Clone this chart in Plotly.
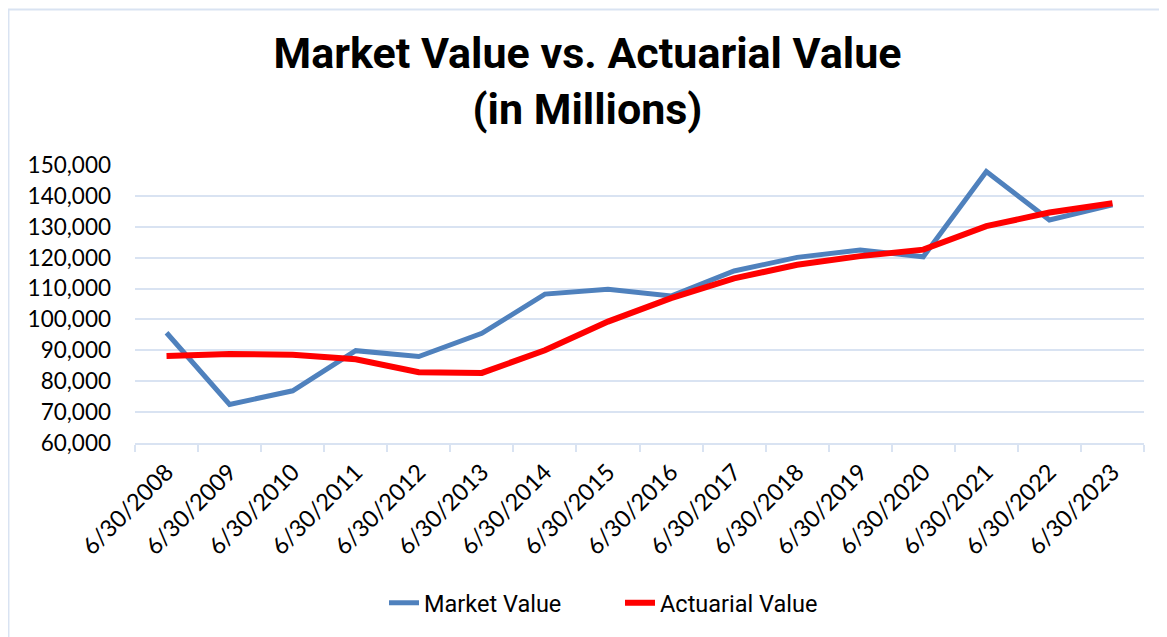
import plotly.graph_objects as go

dates = ['6/30/2008', '6/30/2009', '6/30/2010', '6/30/2011', '6/30/2012',
         '6/30/2013', '6/30/2014', '6/30/2015', '6/30/2016', '6/30/2017',
         '6/30/2018', '6/30/2019', '6/30/2020', '6/30/2021', '6/30/2022',
         '6/30/2023']
market_value = [95700, 72500, 76900, 89900, 88000, 95500, 108200, 109800,
                107600, 115700, 120100, 122500, 120300, 147900, 132200, 137100]
actuarial_value = [88200, 88800, 88600, 87100, 82900, 82700, 90000, 99300,
                   106900, 113300, 117700, 120500, 122600, 130200, 134600, 137600]

GRID = '#d9e3f2'

fig = go.Figure()

fig.add_trace(go.Scatter(
    name='Market Value',
    x=dates,
    y=market_value,
    mode='lines',
    line=dict(color='#4f81bd', width=5),
))
fig.add_trace(go.Scatter(
    name='Actuarial Value',
    x=dates,
    y=actuarial_value,
    mode='lines',
    line=dict(color='#ff0000', width=6),
))

fig.update_xaxes(
    type='category',
    range=[-0.5, 15.5],
    showgrid=False,
    showline=True,
    linecolor=GRID,
    linewidth=2,
    ticks='outside',
    tickson='boundaries',
    ticklen=7,
    tickcolor=GRID,
    tickwidth=2,
    tickangle=-45,
    ticklabelstandoff=4,
    tickfont=dict(family='Lato', size=23.5, color='black'),
)
fig.update_yaxes(
    range=[60000, 150000],
    dtick=10000,
    tickformat=',d',
    showgrid=True,
    gridcolor=GRID,
    gridwidth=2,
    zeroline=False,
    showline=False,
    ticklabelstandoff=23,
    tickfont=dict(family='Lato', size=22.5, color='black'),
)

# the page body adds an 8px margin, so the figure is 8px smaller than the window
fig.update_layout(
    width=1159,
    height=629,
    margin=dict(l=127, r=23, t=157, b=194),
    paper_bgcolor='white',
    plot_bgcolor='white',
    title=dict(
        text='Market Value vs. Actuarial Value<br>(in Millions)',
        x=0.5,
        xanchor='center',
        y=0.905,
        yanchor='top',
        font=dict(family='Roboto', size=43, color='black', weight='bold'),
    ),
    legend=dict(
        orientation='h',
        x=0.2468,
        xanchor='left',
        y=-0.5755,
        yanchor='middle',
        font=dict(family='Roboto', size=23.5, color='black'),
        entrywidth=191,
        entrywidthmode='pixels',
    ),
    shapes=[dict(
        type='rect',
        xref='paper', yref='paper',
        x0=-0.1254, x1=1.05,
        y0=-0.8, y1=1.559,
        line=dict(color=GRID, width=2),
        fillcolor='rgba(0,0,0,0)',
        layer='below',
    )],
)

fig.write_html('out.html')
